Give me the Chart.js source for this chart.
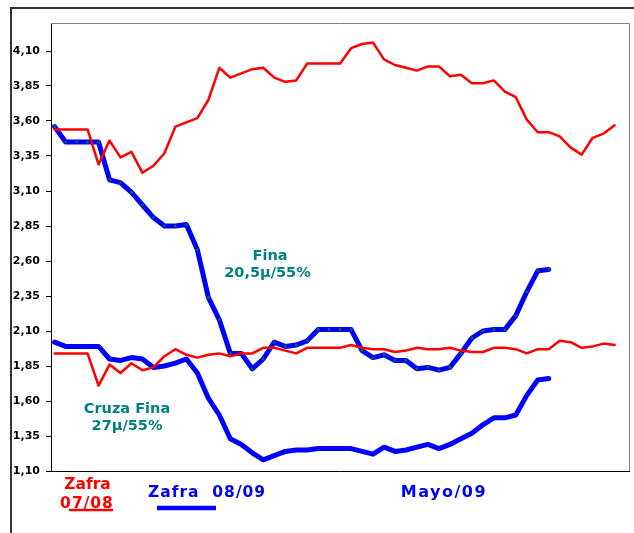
<!DOCTYPE html>
<html>
<head>
<meta charset="utf-8">
<script src="https://cdn.jsdelivr.net/npm/chart.js@4"></script>
<style>
  html, body { margin: 0; padding: 0; background: #fff; }
  canvas { display: block; }
</style>
</head>
<body>
<canvas id="chart" width="634" height="533"></canvas>
<script>
// Precios lana: Fina y Cruza Fina, zafras 07/08 y 08/09

const Y_TICKS = [1.10, 1.35, 1.60, 1.85, 2.10, 2.35, 2.60, 2.85, 3.10, 3.35, 3.60, 3.85, 4.10];

// Zafra 07/08 (rojo)
const FINA_0708 = [
  3.54, 3.54, 3.54, 3.54, 3.29, 3.46, 3.34, 3.38, 3.23, 3.28,
  3.37, 3.56, 3.59, 3.62, 3.75, 3.98, 3.91, 3.94, 3.97, 3.98,
  3.91, 3.88, 3.89, 4.01, 4.01, 4.01, 4.01, 4.12, 4.15, 4.16,
  4.04, 4.00, 3.98, 3.96, 3.99, 3.99, 3.92, 3.93, 3.87, 3.87,
  3.89, 3.81, 3.77, 3.61, 3.52, 3.52, 3.49, 3.41, 3.36, 3.48,
  3.51, 3.57
];
const CRUZA_0708 = [
  1.94, 1.94, 1.94, 1.94, 1.71, 1.86, 1.80, 1.87, 1.82, 1.84,
  1.92, 1.97, 1.93, 1.91, 1.93, 1.94, 1.92, 1.94, 1.94, 1.98,
  1.98, 1.96, 1.94, 1.98, 1.98, 1.98, 1.98, 2.00, 1.98, 1.97,
  1.97, 1.95, 1.96, 1.98, 1.97, 1.97, 1.98, 1.96, 1.95, 1.95,
  1.98, 1.98, 1.97, 1.94, 1.97, 1.97, 2.03, 2.02, 1.98, 1.99,
  2.01, 2.00
];

// Zafra 08/09 (azul)
const FINA_0809 = [
  3.56, 3.45, 3.45, 3.45, 3.45, 3.18, 3.16, 3.09, 3.00, 2.91,
  2.85, 2.85, 2.86, 2.68, 2.34, 2.18, 1.94, 1.94, 1.83, 1.90,
  2.02, 1.99, 2.00, 2.03, 2.11, 2.11, 2.11, 2.11, 1.96, 1.91,
  1.93, 1.89, 1.89, 1.83, 1.84, 1.82, 1.84, 1.94, 2.05, 2.10,
  2.11, 2.11, 2.21, 2.38, 2.53, 2.54
];
const CRUZA_0809 = [
  2.02, 1.99, 1.99, 1.99, 1.99, 1.90, 1.89, 1.91, 1.90, 1.84,
  1.85, 1.87, 1.90, 1.80, 1.62, 1.50, 1.33, 1.29, 1.23, 1.18,
  1.21, 1.24, 1.25, 1.25, 1.26, 1.26, 1.26, 1.26, 1.24, 1.22,
  1.27, 1.24, 1.25, 1.27, 1.29, 1.26, 1.29, 1.33, 1.37, 1.43,
  1.48, 1.48, 1.50, 1.64, 1.75, 1.76
];

const RED   = '#FF0000';
const BLUE  = '#0000FF';
const TEAL  = '#008080';
const FONT  = '"DejaVu Sans", Verdana, sans-serif';

const pts = arr => arr.map((v, i) => ({ x: i, y: v }));

function fmtComma(v) {
  return v.toFixed(2).replace('.', ',');
}

// marco, bordes del área de trazado y textos
const decor = {
  id: 'decor',
  beforeDraw(chart) {
    const c = chart.ctx;
    c.save();
    c.fillStyle = '#fff';
    c.fillRect(0, 0, chart.width, chart.height);
    c.restore();
  },
  beforeDatasetsDraw(chart) {
    const c = chart.ctx;
    const a = chart.chartArea;
    c.save();
    c.lineWidth = 1;
    c.strokeStyle = '#808080';
    c.beginPath();
    c.moveTo(a.left, a.top + 0.5);
    c.lineTo(a.right - 0.5, a.top + 0.5);
    c.lineTo(a.right - 0.5, a.bottom);
    c.stroke();
    c.strokeStyle = '#000';
    c.beginPath();
    c.moveTo(a.left, a.bottom + 0.5);
    c.lineTo(a.right, a.bottom + 0.5);
    c.stroke();
    c.restore();
  },
  afterDraw(chart) {
    const c = chart.ctx;
    c.save();
    // marco exterior
    c.strokeStyle = '#333';
    c.lineWidth = 2;
    c.beginPath();
    c.moveTo(634, 8);
    c.lineTo(11, 8);
    c.lineTo(11, 533);
    c.stroke();

    c.textAlign = 'center';
    c.textBaseline = 'middle';

    // etiquetas de series
    c.fillStyle = TEAL;
    c.font = 'bold 14.5px ' + FONT;
    c.fillText('Fina', 270, 256);
    c.fillText('20,5µ/55%', 267.5, 273);
    c.fillText('Cruza Fina', 127, 409);
    c.fillText('27µ/55%', 127, 426.5);

    // leyenda
    c.font = 'bold 15.5px ' + FONT;
    c.fillStyle = RED;
    c.fillText('Zafra', 87.5, 485);
    c.letterSpacing = '1px';
    c.fillText('07/08', 87, 504);
    c.strokeStyle = RED;
    c.lineWidth = 2.5;
    c.beginPath();
    c.moveTo(69, 510);
    c.lineTo(113, 510);
    c.stroke();

    c.fillStyle = BLUE;
    c.textAlign = 'left';
    c.fillText('Zafra  08/09', 148, 493);
    c.strokeStyle = BLUE;
    c.lineWidth = 4.5;
    c.beginPath();
    c.moveTo(157, 508);
    c.lineTo(216, 508);
    c.stroke();

    c.textAlign = 'center';
    c.font = 'bold 16px ' + FONT;
    c.letterSpacing = '1.5px';
    c.fillText('Mayo/09', 444, 493);
    c.restore();
  }
};

const datasets = [
  {
    label: 'Fina 08/09',
    data: pts(FINA_0809),
    borderColor: BLUE,
    borderWidth: 5,
    pointRadius: 1.3,
    pointBackgroundColor: '#008000',
    pointBorderWidth: 0,
    order: 4
  },
  {
    label: 'Cruza Fina 08/09',
    data: pts(CRUZA_0809),
    borderColor: BLUE,
    borderWidth: 5,
    pointRadius: 0,
    order: 3
  },
  {
    label: 'Fina 07/08',
    data: pts(FINA_0708),
    borderColor: RED,
    borderWidth: 2.5,
    pointRadius: 0,
    order: 2
  },
  {
    label: 'Cruza Fina 07/08',
    data: pts(CRUZA_0708),
    borderColor: RED,
    borderWidth: 2.5,
    pointRadius: 0,
    order: 1
  }
];

new Chart(document.getElementById('chart').getContext('2d'), {
  type: 'line',
  data: { datasets },
  options: {
    responsive: false,
    devicePixelRatio: 1,
    animation: false,
    layout: { padding: { left: 0, top: 23, right: 1, bottom: 62 } },
    elements: {
      line: { tension: 0, fill: false, borderJoinStyle: 'round', borderCapStyle: 'round' }
    },
    plugins: {
      legend: { display: false },
      tooltip: { enabled: false }
    },
    scales: {
      x: {
        type: 'linear',
        min: -0.33,
        max: 52.4,
        display: false
      },
      y: {
        min: 1.10,
        max: 4.30,
        afterBuildTicks(scale) {
          scale.ticks = Y_TICKS.map(v => ({ value: v }));
        },
        afterFit(scale) {
          scale.width = 51;
        },
        border: { display: true, color: '#000', width: 1 },
        grid: {
          drawOnChartArea: false,
          drawTicks: true,
          tickLength: 5,
          color: '#000'
        },
        ticks: {
          padding: 6,
          color: '#000',
          font: { family: FONT, size: 11, weight: 'bold' },
          callback: v => fmtComma(v)
        }
      }
    }
  },
  plugins: [decor]
});
</script>
</body>
</html>
